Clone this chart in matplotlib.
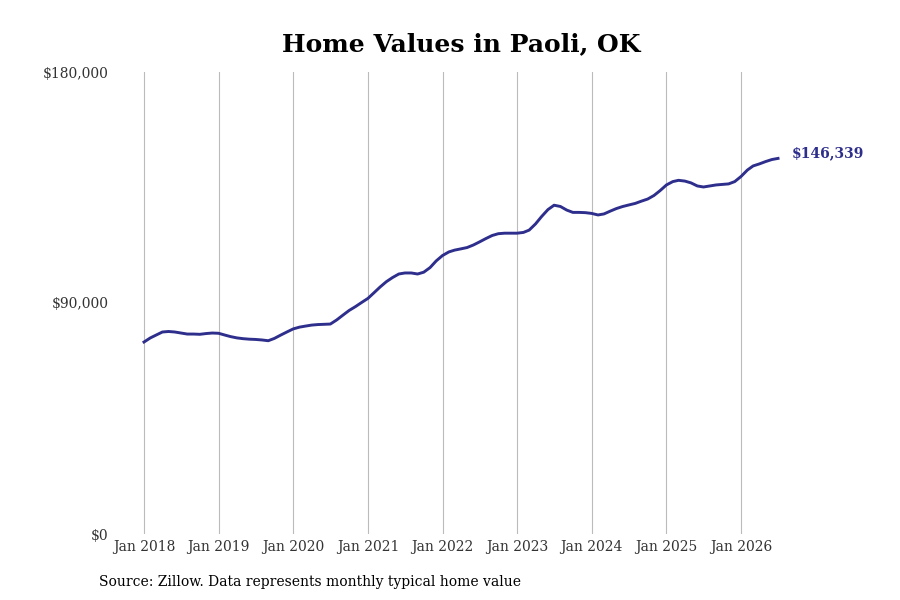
import numpy as np
import pandas as pd
import matplotlib
matplotlib.use("Agg")
import matplotlib.pyplot as plt
import matplotlib.dates as mdates

plt.rcParams['font.family'] = 'DejaVu Serif'

# monthly typical home value, Jan 2018 - Jul 2026
months = pd.date_range("2018-01-01", "2026-07-01", freq="MS")
values = [
    74800, 76400, 77500, 78700, 78900, 78700, 78300, 77900, 77900, 77800, 78100, 78300,
    78200, 77500, 76900, 76400, 76100, 75900, 75800, 75600, 75300, 76200, 77500, 78700,
    79900, 80600, 81000, 81400, 81600, 81700, 81800, 83400, 85300, 87100, 88600, 90200,
    91800, 94100, 96200, 98300, 99900, 101300, 101700, 101700, 101300, 102000, 103800, 106400,
    108500, 109900, 110600, 111100, 111600, 112600, 113800, 115100, 116300, 117000, 117200, 117200,
    117200, 117500, 118400, 120800, 123700, 126400, 128100, 127600, 126200, 125300, 125300, 125200,
    124900, 124300, 124700, 125800, 126800, 127600, 128200, 128800, 129700, 130500, 131900, 133800,
    136000, 137300, 137800, 137500, 136800, 135600, 135200, 135600, 136000, 136200, 136400, 137300,
    139300, 141800, 143400, 144200, 145100, 145900, 146339,
]
tick_years = list(range(2018, 2027))
y_ticks = [0, 90000, 180000]
line_color = "#2e2e8c"

fig = plt.figure(figsize=(9, 6), dpi=100)
ax = fig.add_axes([0.128, 0.11, 0.761, 0.77])

ax.plot(months, values, color=line_color, linewidth=2.1)

ax.set_ylim(0, 180000)
ax.set_yticks(y_ticks)
ax.set_yticklabels([f"${v:,.0f}" for v in y_ticks], fontsize=10, color="#333333")

tick_dates = [pd.Timestamp(f"{y}-01-01") for y in tick_years]
ax.set_xticks(tick_dates)
ax.set_xticklabels([f"Jan {y}" for y in tick_years], fontsize=10, color="#333333")
ax.set_xlim(pd.Timestamp("2017-08-13"), pd.Timestamp("2026-10-17"))

ax.grid(axis="x", color="#bbbbbb", linewidth=0.8)
ax.tick_params(axis="both", length=0)
ax.tick_params(axis="x", pad=4)
ax.tick_params(axis="y", pad=5)
for s in ax.spines.values():
    s.set_visible(False)

# end label
ax.annotate(f"${values[-1]:,.0f}", xy=(months[-1], values[-1]), xytext=(10, 4),
            textcoords="offset points", fontsize=10, fontweight="bold",
            color=line_color, va="center", ha="left")

fig.text(0.512, 0.926, "Home Values in Paoli, OK", ha="center", va="center",
         fontsize=18, fontweight="bold")
fig.text(0.11, 0.03, "Source: Zillow. Data represents monthly typical home value",
         ha="left", va="center", fontsize=10)

fig.savefig("out.png", dpi=100)
